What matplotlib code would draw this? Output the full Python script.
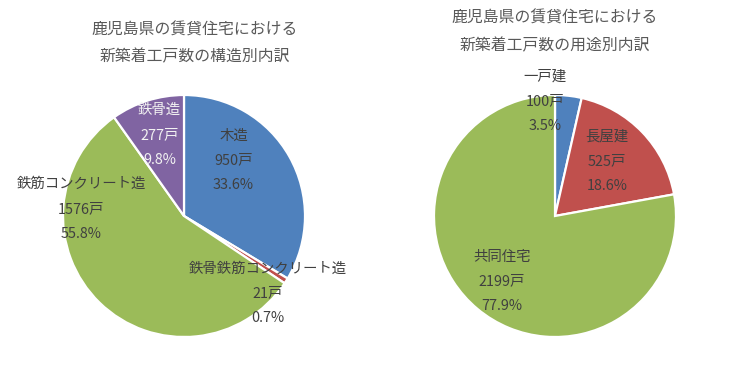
import matplotlib.pyplot as plt

plt.rcParams['font.family'] = ['Noto Sans CJK JP', 'DejaVu Sans']

# structure breakdown (left)
struct_names = ["木造", "鉄骨鉄筋コンクリート造", "鉄筋コンクリート造", "鉄骨造"]
struct_units = [950, 21, 1576, 277]
struct_pct = [33.6, 0.7, 55.8, 9.8]

# use breakdown (right)
use_names = ["一戸建", "長屋建", "共同住宅"]
use_units = [100, 525, 2199]
use_pct = [3.5, 18.6, 77.9]

colors4 = ["#4F81BD", "#C0504D", "#9BBB59", "#8064A2"]
dark = "#404040"

W, H = 738, 373
fig = plt.figure(figsize=(W / 100, H / 100), dpi=100)


def pie_axes(cx, cy, r):
    return fig.add_axes([(cx - r) / W, (H - cy - r) / H, 2 * r / W, 2 * r / H])


def draw_pie(ax, values, colors, labels, offsets, text_colors):
    ax.pie(values, colors=colors, startangle=90, counterclock=False,
           wedgeprops=dict(edgecolor="white", linewidth=1.6))
    ax.set_xlim(-1, 1)
    ax.set_ylim(-1, 1)
    ax.set_axis_off()
    for lines, (dx, dy), tc in zip(labels, offsets, text_colors):
        for k, s in enumerate(lines):
            ax.text(dx, dy + (1 - k) * 0.205, s, ha="center", va="center",
                    fontsize=10.4, color=tc, clip_on=False)


# left pie
ax1 = pie_axes(184, 216, 121)
labels1 = [[n, f"{u}戸", f"{p}%"] for n, u, p in zip(struct_names, struct_units, struct_pct)]
offsets1 = [(0.41, 0.46), (0.69, -0.64), (-0.85, 0.06), (-0.20, 0.67)]
tcolors1 = [dark, dark, dark, "#F2F2F2"]
draw_pie(ax1, struct_units, colors4, labels1, offsets1, tcolors1)

# right pie
ax2 = pie_axes(555, 216, 121)
labels2 = [[n, f"{u}戸", f"{p}%"] for n, u, p in zip(use_names, use_units, use_pct)]
offsets2 = [(-0.08, 0.95), (0.43, 0.45), (-0.44, -0.54)]
draw_pie(ax2, use_units, colors4[:3], labels2, offsets2, [dark] * 3)

# titles
title_color = "#595959"
fig.text(195 / W, 1 - 30 / H, "鹿児島県の賃貸住宅における", ha="center", va="center",
         fontsize=11.4, color=title_color)
fig.text(195 / W, 1 - 57 / H, "新築着工戸数の構造別内訳", ha="center", va="center",
         fontsize=11.4, color=title_color)
fig.text(555 / W, 1 - 18 / H, "鹿児島県の賃貸住宅における", ha="center", va="center",
         fontsize=11.4, color=title_color)
fig.text(555 / W, 1 - 46 / H, "新築着工戸数の用途別内訳", ha="center", va="center",
         fontsize=11.4, color=title_color)

fig.savefig("out.png", dpi=100)
